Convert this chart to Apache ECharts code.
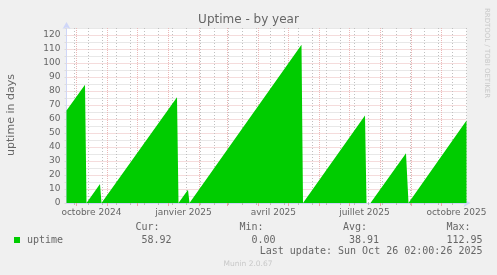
<!DOCTYPE html>
<html>
<head>
<meta charset="utf-8">
<script src="https://cdn.jsdelivr.net/npm/echarts@6/dist/echarts.min.js"></script>
<style>
html, body { margin: 0; padding: 0; background: #f0f0f0; }
#main { width: 497px; height: 275px; }
</style>
</head>
<body>
<div id="main"></div>
<script>
// uptime en jours (moyennes journalieres)
var sampleTimes = [
    '2024-09-21 02:00', '2024-10-09 14:00', '2024-10-11 02:00',
    '2024-10-24 14:00', '2024-10-26 02:00',
    '2025-01-09 14:00', '2025-01-11 02:00',
    '2025-01-20 14:00', '2025-01-22 02:00',
    '2025-05-14 02:00', '2025-05-15 14:00',
    '2025-07-16 14:00', '2025-07-18 02:00', '2025-07-22 02:00',
    '2025-08-26 14:00', '2025-08-29 02:00',
    '2025-10-26 02:00'
];
var uptimeDays = [
    66, 84.5, 0,
    13.5, 0,
    75.5, 0,
    9.5, 0,
    112.95, 0,
    62.5, 0, 0,
    35.5, 0,
    58.92
];
// bornes de l'axe du temps
var rangeStart = '2024-09-21 02:00';
var rangeEnd = '2025-10-26 02:00';
// debuts de mois (grille principale)
var monthStarts = ['2024-10-01', '2024-11-01', '2024-12-01', '2025-01-01', '2025-02-01',
    '2025-03-01', '2025-04-01', '2025-05-01', '2025-06-01', '2025-07-01',
    '2025-08-01', '2025-09-01', '2025-10-01'];
// etiquettes (centrees au milieu du mois)
var labelDates = ['2024-10-16', '2025-01-16', '2025-04-16', '2025-07-16', '2025-10-16'];
var labelTexts = ['octobre 2024', 'janvier 2025', 'avril 2025', 'juillet 2025', 'octobre 2025'];
// legende
var statNames = ['Cur:', 'Min:', 'Avg:', 'Max:'];
var statValues = ['58.92', '0.00', '38.91', '112.95'];
var lastUpdate = 'Last update: Sun Oct 26 02:00:26 2025';

var toTs = function (s) {
    return new Date(s.length === 10 ? s + 'T00:00' : s.replace(' ', 'T')).getTime();
};
var seriesData = sampleTimes.map(function (t, i) { return [toTs(t), uptimeDays[i]]; });
var labelTs = labelDates.map(toTs);
var monthTs = monthStarts.map(toTs);
/*grille secondaire: toutes les deux semaines*/
var minorTs = [];
for (var t = toTs('2024-09-29'); t < toTs(rangeEnd); t += 14 * 86400000) {
    minorTs.push(t);
}

var chart = echarts.init(document.getElementById('main'));
var font = 'DejaVu Sans';
var mono = 'DejaVu Sans Mono';
var textColor = '#666666';
var axisColor = '#cfd6f8';

var graphics = [
    { type: 'text', style: { x: 248.5, y: 19.5, text: 'Uptime - by year', font: '12px ' + font, fill: textColor, textAlign: 'center', textVerticalAlign: 'middle' } },
    { type: 'text', rotation: Math.PI / 2, x: 11, y: 115, style: { x: 0, y: 0, text: 'uptime in days', font: '11px ' + font, fill: textColor, textAlign: 'center', textVerticalAlign: 'middle' } },
    { type: 'text', rotation: -Math.PI / 2, x: 487, y: 53, style: { x: 0, y: 0, text: 'RRDTOOL / TOBI OETIKER', font: '7px ' + font, fill: '#c8c8c8', textAlign: 'center', textVerticalAlign: 'middle' } },
    { type: 'rect', shape: { x: 14, y: 237, width: 6, height: 6 }, style: { fill: '#00cc00' } },
    { type: 'text', style: { x: 27, y: 240, text: 'uptime', font: '10px ' + mono, fill: textColor, textVerticalAlign: 'middle' } },
    { type: 'text', style: { x: 482.5, y: 251.5, text: lastUpdate, font: '10px ' + mono, fill: textColor, textAlign: 'right', textVerticalAlign: 'middle' } },
    { type: 'text', style: { x: 248, y: 264.5, text: 'Munin 2.0.67', font: '7.5px ' + font, fill: '#c8c8c8', textAlign: 'center', textVerticalAlign: 'middle' } }
];
var nameRight = [159.5, 263.5, 367, 470.5];
statNames.forEach(function (n, i) {
    graphics.push({ type: 'text', style: { x: nameRight[i], y: 227.5, text: n, font: '10px ' + mono, fill: textColor, textAlign: 'right', textVerticalAlign: 'middle' } });
    graphics.push({ type: 'text', style: { x: nameRight[i] + 12, y: 240, text: statValues[i], font: '10px ' + mono, fill: textColor, textAlign: 'right', textVerticalAlign: 'middle' } });
});

var option = {
    backgroundColor: '#f0f0f0',
    animation: false,
    grid: {
        left: 66.5, right: 30.5, top: 28, bottom: 72,
        show: true, backgroundColor: '#ffffff', borderWidth: 0
    },
    xAxis: [
        {   /*grille secondaire*/
            type: 'value', position: 'bottom',
            min: toTs(rangeStart), max: toTs(rangeEnd),
            axisLine: { show: false },
            axisLabel: { show: true, customValues: minorTs, formatter: function () { return ''; } },
            axisTick: { show: true, customValues: minorTs, length: 2, lineStyle: { color: '#bbbbbb' } },
            splitLine: { show: true, lineStyle: { color: '#c0c0c0', type: [1, 2], width: 1 } }
        },
        {   /*mois + etiquettes*/
            type: 'value', position: 'bottom',
            min: toTs(rangeStart), max: toTs(rangeEnd),
            axisLine: { show: true, lineStyle: { color: axisColor }, symbol: ['none', 'arrow'], symbolSize: [6, 7], symbolOffset: [0, 4] },
            axisTick: { show: true, customValues: monthTs, length: 3, lineStyle: { color: '#e8a8a8' } },
            splitLine: { show: true, lineStyle: { color: '#ebb8b8', type: [1, 1], width: 1 } },
            axisLabel: {
                customValues: labelTs, color: textColor, fontFamily: font, fontSize: 9, margin: 5,
                formatter: function (v) { return labelTexts[labelTs.indexOf(v)] || ''; }
            }
        }
    ],
    yAxis: {
        type: 'value', min: 0, max: 125, interval: 5,
        axisLine: { show: true, lineStyle: { color: axisColor }, symbol: ['none', 'arrow'], symbolSize: [6, 7], symbolOffset: [0, 6] },
        axisTick: { show: true, length: 2, lineStyle: { color: '#dddddd' } },
        splitLine: { show: true, lineStyle: { color: ['#ebb8b8', '#d0d0d0'], type: [1, 1], width: 1 } },
        axisLabel: {
            color: textColor, fontFamily: font, fontSize: 9, margin: 6,
            formatter: function (v) { return v % 10 === 0 ? String(v) : ''; }
        }
    },
    series: [{
        name: 'uptime',
        type: 'line',
        xAxisIndex: 1,
        data: seriesData,
        showSymbol: false,
        lineStyle: { width: 0 },
        areaStyle: { color: '#00cc00', opacity: 1 },
        itemStyle: { color: '#00cc00' }
    }],
    graphic: graphics
};
chart.setOption(option);
</script>
</body>
</html>
